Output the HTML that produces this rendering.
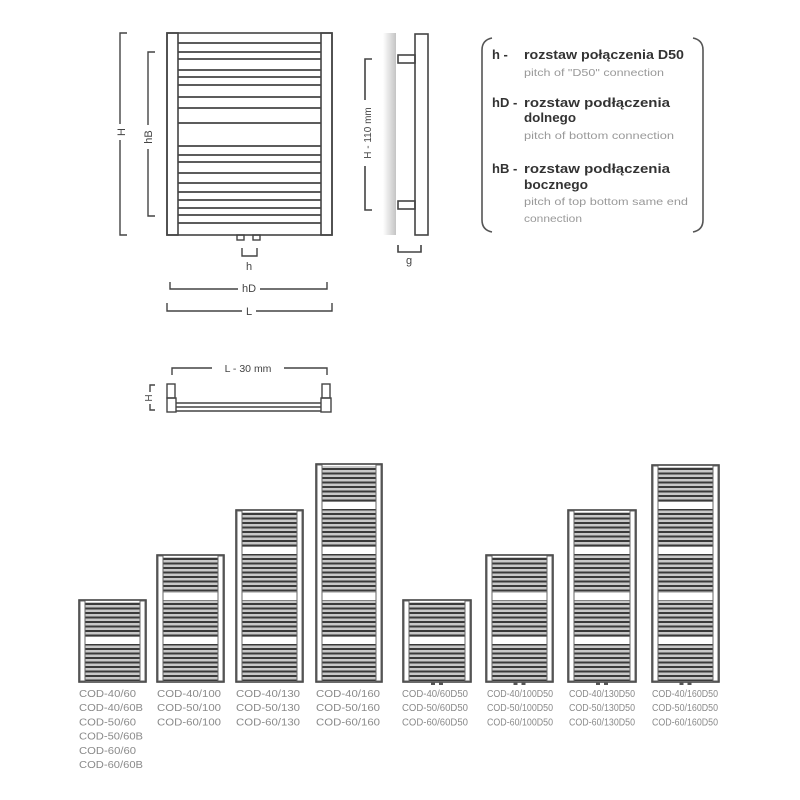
<!DOCTYPE html>
<html><head><meta charset="utf-8"><style>
html,body{margin:0;padding:0;background:#fff}
svg{display:block}
text{font-family:"Liberation Sans",sans-serif}
</style></head><body>
<svg id="s" width="800" height="800" viewBox="0 0 800 800" xmlns="http://www.w3.org/2000/svg">
<defs>
<pattern id="st" x="0" y="0" width="10" height="4.5" patternUnits="userSpaceOnUse">
<rect width="10" height="4.5" fill="#c8c8c8"/><rect y="0" width="10" height="2" fill="#3a3a3a"/>
</pattern>
<linearGradient id="wall" x1="0" x2="1"><stop offset="0" stop-color="#fff"/><stop offset="1" stop-color="#c4c4c4"/></linearGradient>
</defs>
<g fill="none" stroke="#444" stroke-width="1.6">
<rect x="167" y="33" width="165" height="202"/>
<rect x="167" y="33" width="11" height="202"/>
<rect x="321" y="33" width="11" height="202"/>
</g>
<g id="bars" stroke="#444" stroke-width="1.8"></g>
<g fill="none" stroke="#444" stroke-width="1.4">
<rect x="237" y="235" width="7" height="5"/><rect x="253" y="235" width="7" height="5"/>
<path d="M127 33H120V235H127"/>
<path d="M155 52H148V216H155"/>
<path d="M242 248V256H257V248"/>
<path d="M170 282V289H327V282"/>
<path d="M167 303V311H332V303"/>
</g>
<g fill="#fff">
<rect x="115" y="124" width="12" height="16"/><rect x="143" y="125" width="12" height="24"/>
<rect x="238" y="283" width="22" height="10"/><rect x="242" y="305" width="14" height="10"/>
</g>
<g font-size="11" fill="#444" text-anchor="middle">
<text transform="translate(125,132) rotate(-90)">H</text>
<text transform="translate(152,137) rotate(-90)">hB</text>
<text x="249" y="270">h</text>
<text x="249" y="292">hD</text>
<text x="249" y="315">L</text>
<text x="409" y="264">g</text>
</g>
<rect x="383" y="33" width="13" height="202" fill="url(#wall)"/>
<g fill="none" stroke="#444" stroke-width="1.6">
<rect x="415" y="34" width="13" height="201"/>
<rect x="398" y="55" width="17" height="8"/>
<rect x="398" y="201" width="17" height="8"/>
<path d="M372 59H365V210H372"/>
<path d="M398 245V252H421V245"/>
</g>
<rect x="360" y="100" width="12" height="66" fill="#fff"/>
<text transform="translate(371,133) rotate(-90)" font-size="10" fill="#444" text-anchor="middle">H - 110 mm</text>
<g fill="none" stroke="#555" stroke-width="1.6">
<path d="M492 38Q482 40 482 50V220Q482 230 492 232"/>
<path d="M693 38Q703 40 703 50V220Q703 230 693 232"/>
</g>
<g font-size="13" fill="#333" font-weight="bold">
<text x="492" y="59">h -</text><text x="524" y="59" textLength="160" lengthAdjust="spacingAndGlyphs">rozstaw połączenia D50</text>
<text x="492" y="107">hD -</text><text x="524" y="107" textLength="146" lengthAdjust="spacingAndGlyphs">rozstaw podłączenia</text><text x="524" y="122" textLength="52" lengthAdjust="spacingAndGlyphs">dolnego</text>
<text x="492" y="173">hB -</text><text x="524" y="173" textLength="146" lengthAdjust="spacingAndGlyphs">rozstaw podłączenia</text><text x="524" y="189" textLength="64" lengthAdjust="spacingAndGlyphs">bocznego</text>
</g>
<g font-size="10" fill="#999">
<text x="524" y="76" textLength="140" lengthAdjust="spacingAndGlyphs">pitch of "D50" connection</text>
<text x="524" y="139" textLength="150" lengthAdjust="spacingAndGlyphs">pitch of bottom connection</text>
<text x="524" y="205" textLength="164" lengthAdjust="spacingAndGlyphs">pitch of top bottom same end</text>
<text x="524" y="222" textLength="58" lengthAdjust="spacingAndGlyphs">connection</text>
</g>
<g fill="none" stroke="#444" stroke-width="1.4">
<path d="M172 375V368H327V375"/>
<path d="M155 385H150V410H155"/>
<rect x="167" y="384" width="8" height="14"/><rect x="167" y="398" width="9" height="14"/>
<rect x="322" y="384" width="8" height="14"/><rect x="321" y="398" width="10" height="14"/>
<path d="M176 403H321M176 407H321M176 411H321"/>
</g>
<rect x="212" y="362" width="72" height="12" fill="#fff"/>
<text x="248" y="372" font-size="10.5" fill="#444" text-anchor="middle">L - 30 mm</text>
<rect x="144" y="392" width="10" height="12" fill="#fff"/>
<text transform="translate(152,398) rotate(-90)" font-size="10" fill="#444" text-anchor="middle">H</text>
<g id="rads"></g>
<g id="labels" font-size="10" fill="#8a8a8a"></g>
</svg>
<script>
var NS="http://www.w3.org/2000/svg";
function el(t,a,p){var e=document.createElementNS(NS,t);for(var k in a)e.setAttribute(k,a[k]);p.appendChild(e);return e;}
var bars=document.getElementById('bars');
[43,52,59,70,77,85,97,108,123,146,155,162,173,183,192,200,208,215,223].forEach(function(y){el('line',{x1:178,x2:321,y1:y,y2:y},bars);});
var rads=document.getElementById('rads');
var R=[[79,146,600],[157,224,555],[236,303,510],[316,382,464],[403,471,600],[486,553,555],[568,636,510],[652,719,465]];
R.forEach(function(r,i){
 var x1=r[0],x2=r[1],y=r[2],b=682;
 el('rect',{x:x1+6,y:y+2,width:x2-x1-12,height:b-y-3,fill:'url(#st)'},rads);
 [502,547,593,637].forEach(function(g){if(g>y+5)el('rect',{x:x1+6,y:g,width:x2-x1-12,height:7,fill:'#fff'},rads);});
 el('rect',{x:x1,y:y,width:x2-x1,height:b-y,fill:'none',stroke:'#444','stroke-width':1.6},rads);
 el('rect',{x:x1+1,y:y+1,width:5,height:b-y-2,fill:'#fff',stroke:'#666','stroke-width':1},rads);
 el('rect',{x:x2-6,y:y+1,width:5,height:b-y-2,fill:'#fff',stroke:'#666','stroke-width':1},rads);
 if(i>=4){var c=(x1+x2)/2;el('rect',{x:c-6,y:682,width:4,height:3,fill:'#555'},rads);el('rect',{x:c+2,y:682,width:4,height:3,fill:'#555'},rads);}
});
var L=document.getElementById('labels');
var T=[[79,["COD-40/60","COD-40/60B","COD-50/60","COD-50/60B","COD-60/60","COD-60/60B"]],
[157,["COD-40/100","COD-50/100","COD-60/100"]],[236,["COD-40/130","COD-50/130","COD-60/130"]],[316,["COD-40/160","COD-50/160","COD-60/160"]],
[402,["COD-40/60D50","COD-50/60D50","COD-60/60D50"]],[487,["COD-40/100D50","COD-50/100D50","COD-60/100D50"]],
[569,["COD-40/130D50","COD-50/130D50","COD-60/130D50"]],[652,["COD-40/160D50","COD-50/160D50","COD-60/160D50"]]];
T.forEach(function(t){t[1].forEach(function(s,j){var e=el('text',{x:t[0],y:697+j*14.2,textLength:(t[0]>=400?66:(s.length>9?64:57)),lengthAdjust:'spacingAndGlyphs'},L);e.textContent=s;});});
</script>
</body></html>
